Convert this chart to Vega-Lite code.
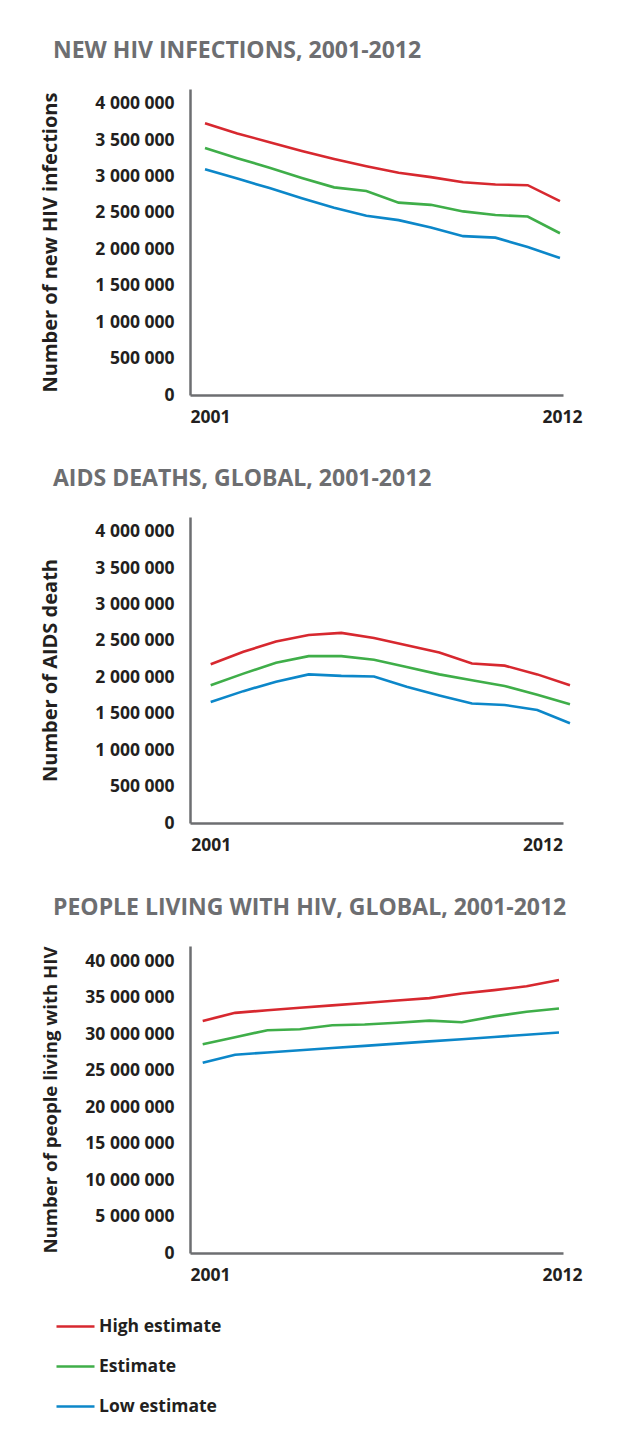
{
  "$schema": "https://vega.github.io/schema/vega-lite/v6.json",
  "background": "white",
  "padding": {"left": 39, "top": 40, "right": 10, "bottom": 10},
  "spacing": 42,
  "config": {
    "font": "Open Sans",
    "view": {"stroke": null},
    "axis": {
      "grid": false, "ticks": false, "tickSize": 0,
      "domainColor": "#6d6e71", "domainWidth": 2.5,
      "labelFont": "Open Sans", "labelFontWeight": "bold", "labelFontSize": 17.5, "labelColor": "#231f20",
      "titleFont": "Open Sans", "titleFontWeight": "bold", "titleFontSize": 20, "titleColor": "#231f20"
    },
    "axisX": {"labelPadding": 13, "title": null},
    "axisY": {"labelPadding": 16, "titleX": -134, "titleBaseline": "alphabetic"},
    "line": {"strokeWidth": 2.6}
  },
  "vconcat": [
    {
      "title": {"text": "NEW HIV INFECTIONS, 2001-2012", "font": "Open Sans", "fontSize": 23, "fontWeight": "bold", "color": "#6d6e71", "anchor": "start", "frame": "group", "dx": -137, "offset": 8, "baseline": "alphabetic"},
      "width": 373, "height": 306,
      "data": {"values": [
        {"year": 2001, "series": "High estimate", "value": 3730000},
        {"year": 2002, "series": "High estimate", "value": 3590000},
        {"year": 2003, "series": "High estimate", "value": 3470000},
        {"year": 2004, "series": "High estimate", "value": 3350000},
        {"year": 2005, "series": "High estimate", "value": 3240000},
        {"year": 2006, "series": "High estimate", "value": 3140000},
        {"year": 2007, "series": "High estimate", "value": 3050000},
        {"year": 2008, "series": "High estimate", "value": 2990000},
        {"year": 2009, "series": "High estimate", "value": 2920000},
        {"year": 2010, "series": "High estimate", "value": 2890000},
        {"year": 2011, "series": "High estimate", "value": 2880000},
        {"year": 2012, "series": "High estimate", "value": 2660000},
        {"year": 2001, "series": "Estimate", "value": 3390000},
        {"year": 2002, "series": "Estimate", "value": 3250000},
        {"year": 2003, "series": "Estimate", "value": 3120000},
        {"year": 2004, "series": "Estimate", "value": 2980000},
        {"year": 2005, "series": "Estimate", "value": 2850000},
        {"year": 2006, "series": "Estimate", "value": 2800000},
        {"year": 2007, "series": "Estimate", "value": 2640000},
        {"year": 2008, "series": "Estimate", "value": 2610000},
        {"year": 2009, "series": "Estimate", "value": 2520000},
        {"year": 2010, "series": "Estimate", "value": 2470000},
        {"year": 2011, "series": "Estimate", "value": 2450000},
        {"year": 2012, "series": "Estimate", "value": 2220000},
        {"year": 2001, "series": "Low estimate", "value": 3100000},
        {"year": 2002, "series": "Low estimate", "value": 2970000},
        {"year": 2003, "series": "Low estimate", "value": 2840000},
        {"year": 2004, "series": "Low estimate", "value": 2700000},
        {"year": 2005, "series": "Low estimate", "value": 2570000},
        {"year": 2006, "series": "Low estimate", "value": 2460000},
        {"year": 2007, "series": "Low estimate", "value": 2400000},
        {"year": 2008, "series": "Low estimate", "value": 2300000},
        {"year": 2009, "series": "Low estimate", "value": 2180000},
        {"year": 2010, "series": "Low estimate", "value": 2160000},
        {"year": 2011, "series": "Low estimate", "value": 2030000},
        {"year": 2012, "series": "Low estimate", "value": 1880000}
      ]},
      "mark": {"type": "line"},
      "encoding": {
        "x": {"field": "year", "type": "quantitative", "scale": {"domain": [2000.535, 2012.094], "nice": false, "zero": false},
              "axis": {"title": null, "values": [2001.155, 2012.06], "labelExpr": "datum.value < 2006 ? '2001' : '2012'"}},
        "y": {"field": "value", "type": "quantitative", "scale": {"domain": [0, 4200000], "nice": false},
              "axis": {"title": "Number of new HIV infections", "values": [0, 500000, 1000000, 1500000, 2000000, 2500000, 3000000, 3500000, 4000000],
                       "labelExpr": "replace(replace(format(datum.value, ','), ',', ' '), ',', ' ')"}},
        "color": {"field": "series", "type": "nominal",
                  "scale": {"domain": ["High estimate", "Estimate", "Low estimate"], "range": ["#d7282f", "#3fae49", "#0c87c9"]},
                  "legend": {"orient": "none", "legendX": -135, "legendY": 1217, "title": null, "direction": "vertical",
                             "symbolType": "stroke", "symbolSize": 1444, "symbolStrokeWidth": 3,
                             "labelFont": "Open Sans", "labelFontSize": 17.5, "labelFontWeight": "bold", "labelColor": "#231f20",
                             "labelOffset": 3, "rowPadding": 11}}
      }
    },
    {
      "title": {"text": "AIDS DEATHS, GLOBAL, 2001-2012", "font": "Open Sans", "fontSize": 23, "fontWeight": "bold", "color": "#6d6e71", "anchor": "start", "frame": "group", "dx": -137, "offset": 8, "baseline": "alphabetic"},
      "width": 373, "height": 306,
      "data": {"values": [
        {"year": 2001, "series": "High estimate", "value": 2180000},
        {"year": 2002, "series": "High estimate", "value": 2350000},
        {"year": 2003, "series": "High estimate", "value": 2490000},
        {"year": 2004, "series": "High estimate", "value": 2580000},
        {"year": 2005, "series": "High estimate", "value": 2610000},
        {"year": 2006, "series": "High estimate", "value": 2540000},
        {"year": 2007, "series": "High estimate", "value": 2440000},
        {"year": 2008, "series": "High estimate", "value": 2340000},
        {"year": 2009, "series": "High estimate", "value": 2190000},
        {"year": 2010, "series": "High estimate", "value": 2160000},
        {"year": 2011, "series": "High estimate", "value": 2040000},
        {"year": 2012, "series": "High estimate", "value": 1890000},
        {"year": 2001, "series": "Estimate", "value": 1890000},
        {"year": 2002, "series": "Estimate", "value": 2050000},
        {"year": 2003, "series": "Estimate", "value": 2200000},
        {"year": 2004, "series": "Estimate", "value": 2290000},
        {"year": 2005, "series": "Estimate", "value": 2290000},
        {"year": 2006, "series": "Estimate", "value": 2240000},
        {"year": 2007, "series": "Estimate", "value": 2140000},
        {"year": 2008, "series": "Estimate", "value": 2040000},
        {"year": 2009, "series": "Estimate", "value": 1960000},
        {"year": 2010, "series": "Estimate", "value": 1880000},
        {"year": 2011, "series": "Estimate", "value": 1760000},
        {"year": 2012, "series": "Estimate", "value": 1630000},
        {"year": 2001, "series": "Low estimate", "value": 1660000},
        {"year": 2002, "series": "Low estimate", "value": 1810000},
        {"year": 2003, "series": "Low estimate", "value": 1940000},
        {"year": 2004, "series": "Low estimate", "value": 2040000},
        {"year": 2005, "series": "Low estimate", "value": 2020000},
        {"year": 2006, "series": "Low estimate", "value": 2010000},
        {"year": 2007, "series": "Low estimate", "value": 1870000},
        {"year": 2008, "series": "Low estimate", "value": 1750000},
        {"year": 2009, "series": "Low estimate", "value": 1640000},
        {"year": 2010, "series": "Low estimate", "value": 1620000},
        {"year": 2011, "series": "Low estimate", "value": 1550000},
        {"year": 2012, "series": "Low estimate", "value": 1370000}
      ]},
      "mark": {"type": "line"},
      "encoding": {
        "x": {"field": "year", "type": "quantitative", "scale": {"domain": [2000.366, 2011.787], "nice": false, "zero": false},
              "axis": {"title": null, "values": [2001, 2011.77], "labelExpr": "datum.value < 2006 ? '2001' : '2012'"}},
        "y": {"field": "value", "type": "quantitative", "scale": {"domain": [0, 4200000], "nice": false},
              "axis": {"title": "Number of AIDS death", "values": [0, 500000, 1000000, 1500000, 2000000, 2500000, 3000000, 3500000, 4000000],
                       "labelExpr": "replace(replace(format(datum.value, ','), ',', ' '), ',', ' ')"}},
        "color": {"field": "series", "type": "nominal", "legend": null}
      }
    },
    {
      "title": {"text": "PEOPLE LIVING WITH HIV, GLOBAL, 2001-2012", "font": "Open Sans", "fontSize": 23, "fontWeight": "bold", "color": "#6d6e71", "anchor": "start", "frame": "group", "dx": -137, "offset": 8, "baseline": "alphabetic"},
      "width": 373, "height": 307,
      "data": {"values": [
        {"year": 2001, "series": "High estimate", "value": 31800000},
        {"year": 2002, "series": "High estimate", "value": 32900000},
        {"year": 2003, "series": "High estimate", "value": 33260000},
        {"year": 2004, "series": "High estimate", "value": 33600000},
        {"year": 2005, "series": "High estimate", "value": 33930000},
        {"year": 2006, "series": "High estimate", "value": 34260000},
        {"year": 2007, "series": "High estimate", "value": 34590000},
        {"year": 2008, "series": "High estimate", "value": 34920000},
        {"year": 2009, "series": "High estimate", "value": 35560000},
        {"year": 2010, "series": "High estimate", "value": 36020000},
        {"year": 2011, "series": "High estimate", "value": 36540000},
        {"year": 2012, "series": "High estimate", "value": 37390000},
        {"year": 2001, "series": "Estimate", "value": 28600000},
        {"year": 2002, "series": "Estimate", "value": 29570000},
        {"year": 2003, "series": "Estimate", "value": 30520000},
        {"year": 2004, "series": "Estimate", "value": 30660000},
        {"year": 2005, "series": "Estimate", "value": 31210000},
        {"year": 2006, "series": "Estimate", "value": 31300000},
        {"year": 2007, "series": "Estimate", "value": 31550000},
        {"year": 2008, "series": "Estimate", "value": 31840000},
        {"year": 2009, "series": "Estimate", "value": 31620000},
        {"year": 2010, "series": "Estimate", "value": 32420000},
        {"year": 2011, "series": "Estimate", "value": 33050000},
        {"year": 2012, "series": "Estimate", "value": 33490000},
        {"year": 2001, "series": "Low estimate", "value": 26070000},
        {"year": 2002, "series": "Low estimate", "value": 27170000},
        {"year": 2003, "series": "Low estimate", "value": 27470000},
        {"year": 2004, "series": "Low estimate", "value": 27780000},
        {"year": 2005, "series": "Low estimate", "value": 28080000},
        {"year": 2006, "series": "Low estimate", "value": 28380000},
        {"year": 2007, "series": "Low estimate", "value": 28680000},
        {"year": 2008, "series": "Low estimate", "value": 28990000},
        {"year": 2009, "series": "Low estimate", "value": 29290000},
        {"year": 2010, "series": "Low estimate", "value": 29600000},
        {"year": 2011, "series": "Low estimate", "value": 29900000},
        {"year": 2012, "series": "Low estimate", "value": 30200000}
      ]},
      "mark": {"type": "line"},
      "encoding": {
        "x": {"field": "year", "type": "quantitative", "scale": {"domain": [2000.608, 2012.124], "nice": false, "zero": false},
              "axis": {"title": null, "values": [2001.225, 2012.09], "labelExpr": "datum.value < 2006 ? '2001' : '2012'"}},
        "y": {"field": "value", "type": "quantitative", "scale": {"domain": [0, 42060000], "nice": false},
              "axis": {"title": "Number of people living with HIV", "titleFontSize": 18.6, "values": [0, 5000000, 10000000, 15000000, 20000000, 25000000, 30000000, 35000000, 40000000],
                       "labelExpr": "replace(replace(format(datum.value, ','), ',', ' '), ',', ' ')"}},
        "color": {"field": "series", "type": "nominal", "legend": null}
      }
    }
  ]
}
